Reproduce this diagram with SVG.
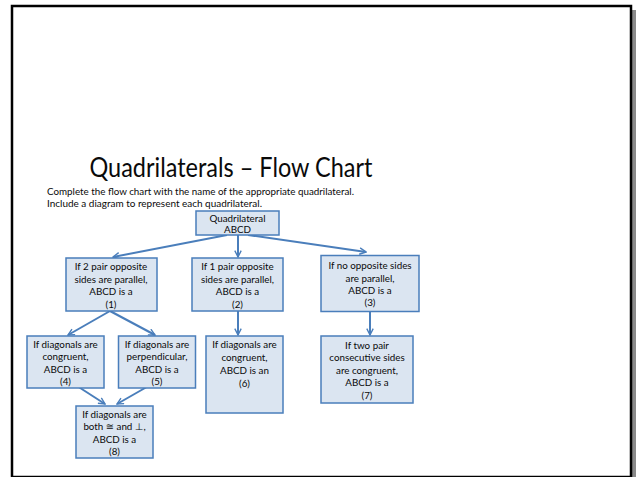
<svg xmlns="http://www.w3.org/2000/svg" width="639" height="477" viewBox="0 0 639 477">
<defs>
<marker id="ah" viewBox="0 0 10 10" refX="9" refY="5" markerWidth="8" markerHeight="8" markerUnits="userSpaceOnUse" orient="auto">
<polyline points="1,1 9,5 1,9" fill="none" stroke="#4a7ebb" stroke-width="1.7"/>
</marker>
<style>
.box{fill:#dbe5f1;stroke:#4a7ebb;stroke-width:1.5}
.t{font-family:Lato,"Liberation Sans","DejaVu Sans",sans-serif;font-size:9.8px;fill:#0a0a0a;text-anchor:middle}
.h{font-family:Lato,"Liberation Sans",sans-serif;fill:#0a0a0a}
.c{fill:none;stroke:#4a7ebb;stroke-width:2;marker-end:url(#ah)}
</style>
</defs>
<rect x="0" y="0" width="639" height="477" fill="#fff"/>
<rect x="632" y="10" width="4" height="467" fill="#8a8a8a"/>
<rect x="12" y="6" width="619" height="471" fill="#fff" stroke="#000" stroke-width="2.5"/>
<text class="h" x="231" y="177" font-size="27" text-anchor="middle" textLength="283" lengthAdjust="spacingAndGlyphs">Quadrilaterals – Flow Chart</text>
<text class="h" x="47" y="195" font-size="9.8" textLength="307" lengthAdjust="spacingAndGlyphs">Complete the flow chart with the name of the appropriate quadrilateral.</text>
<text class="h" x="47" y="206.5" font-size="9.8" textLength="215" lengthAdjust="spacingAndGlyphs">Include a diagram to represent each quadrilateral.</text>
<g id="connectors">
<line class="c" x1="227" y1="235" x2="113" y2="257"/>
<line class="c" x1="238" y1="235" x2="238" y2="257"/>
<line class="c" x1="248" y1="235" x2="366" y2="252"/>
<line class="c" x1="110" y1="311" x2="68" y2="335"/>
<line class="c" x1="110" y1="311" x2="155" y2="335"/>
<line class="c" x1="238" y1="311" x2="238" y2="335"/>
<line class="c" x1="370" y1="311" x2="370" y2="335"/>
<line class="c" x1="74" y1="384" x2="105" y2="404"/>
<line class="c" x1="152" y1="384" x2="117" y2="404"/>
</g>
<g id="n0">
<rect class="box" x="196" y="211" width="83" height="24"/>
<text class="t" x="237.5" y="221.5">Quadrilateral</text>
<text class="t" x="237.5" y="233">ABCD</text>
</g>
<g id="n1">
<rect class="box" x="66" y="258" width="91" height="53"/>
<text class="t" x="111" y="270">If 2 pair opposite</text>
<text class="t" x="111" y="282.5">sides are parallel,</text>
<text class="t" x="111" y="295">ABCD is a</text>
<text class="t" x="111" y="308">(1)</text>
</g>
<g id="n2">
<rect class="box" x="192" y="258" width="91" height="53"/>
<text class="t" x="237.5" y="270">If 1 pair opposite</text>
<text class="t" x="237.5" y="282.5">sides are parallel,</text>
<text class="t" x="237.5" y="295">ABCD is a</text>
<text class="t" x="237.5" y="308">(2)</text>
</g>
<g id="n3">
<rect class="box" x="321" y="255.5" width="98" height="56"/>
<text class="t" x="370" y="269">If no opposite sides</text>
<text class="t" x="370" y="281.5">are parallel,</text>
<text class="t" x="370" y="294">ABCD is a</text>
<text class="t" x="370" y="306">(3)</text>
</g>
<g id="n4">
<rect class="box" x="27" y="336" width="77" height="52"/>
<text class="t" x="65.5" y="347.5">If diagonals are</text>
<text class="t" x="65.5" y="360">congruent,</text>
<text class="t" x="65.5" y="372.5">ABCD is a</text>
<text class="t" x="65.5" y="385">(4)</text>
</g>
<g id="n5">
<rect class="box" x="118.5" y="336" width="77" height="52"/>
<text class="t" x="157" y="347.5">If diagonals are</text>
<text class="t" x="157" y="360">perpendicular,</text>
<text class="t" x="157" y="372.5">ABCD is a</text>
<text class="t" x="157" y="385">(5)</text>
</g>
<g id="n6">
<rect class="box" x="206" y="336" width="77" height="77"/>
<text class="t" x="244.5" y="348">If diagonals are</text>
<text class="t" x="244.5" y="361">congruent,</text>
<text class="t" x="244.5" y="373.5">ABCD is an</text>
<text class="t" x="244.5" y="386.5">(6)</text>
</g>
<g id="n7">
<rect class="box" x="321" y="336" width="92" height="67"/>
<text class="t" x="367" y="348.5">If two pair</text>
<text class="t" x="367" y="361">consecutive sides</text>
<text class="t" x="367" y="373.5">are congruent,</text>
<text class="t" x="367" y="386">ABCD is a</text>
<text class="t" x="367" y="398.5">(7)</text>
</g>
<g id="n8">
<rect class="box" x="76" y="406" width="77" height="52"/>
<text class="t" x="114.5" y="417.5">If diagonals are</text>
<text class="t" x="114.5" y="430">both ≅ and ⊥,</text>
<text class="t" x="114.5" y="442.5">ABCD is a</text>
<text class="t" x="114.5" y="455">(8)</text>
</g>
</svg>
